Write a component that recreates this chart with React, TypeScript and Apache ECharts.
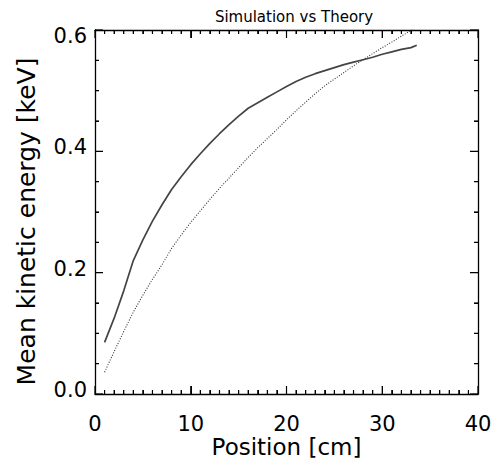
import { useEffect, useRef } from "react";
import * as echarts from "echarts";

const simPositions = [1, 2, 3, 4, 5, 6, 7, 8, 9, 10, 11, 12, 13, 14, 15, 16, 17, 18, 19, 20, 21, 22, 23, 24, 25, 26, 27, 28, 29, 30, 31, 32, 33, 33.6];
const simEnergy = [0.085, 0.125, 0.17, 0.22, 0.254, 0.285, 0.312, 0.337, 0.358, 0.378, 0.396, 0.413, 0.429, 0.444, 0.458, 0.471, 0.48, 0.489, 0.498, 0.507, 0.515, 0.522, 0.528, 0.533, 0.538, 0.543, 0.547, 0.551, 0.555, 0.56, 0.564, 0.568, 0.571, 0.575];

const theoryPositions = [1, 2, 3, 4, 5, 6, 7, 8, 9, 10, 11, 12, 13, 14, 15, 16, 17, 18, 19, 20, 21, 22, 23, 24, 25, 26, 27, 28, 29, 30, 31, 32, 33, 33.6];
const theoryEnergy = [0.036, 0.07, 0.103, 0.135, 0.163, 0.189, 0.213, 0.24, 0.262, 0.283, 0.302, 0.321, 0.339, 0.356, 0.373, 0.39, 0.406, 0.421, 0.436, 0.452, 0.467, 0.481, 0.495, 0.508, 0.519, 0.53, 0.541, 0.551, 0.561, 0.571, 0.58, 0.59, 0.599, 0.604];

const xMajorTicks = [0, 10, 20, 30, 40];
const xMinorTicks = [1, 2, 3, 4, 5, 6, 7, 8, 9, 11, 12, 13, 14, 15, 16, 17, 18, 19, 21, 22, 23, 24, 25, 26, 27, 28, 29, 31, 32, 33, 34, 35, 36, 37, 38, 39];
const yMajorTicks = [0, 0.2, 0.4, 0.6];
const yMinorTicks = [0.05, 0.1, 0.15, 0.25, 0.3, 0.35, 0.45, 0.5, 0.55];

const X_MIN = 0;
const X_MAX = 40;
const Y_MIN = 0;
const Y_MAX = 0.6;

const titleText = "Simulation vs Theory";
const xName = "Position [cm]";
const yName = "Mean kinetic energy [keV]";

const FONT = "DejaVu Sans";
const MAJOR_LEN = 8;
const MINOR_LEN = 4;
const TICK_W = 1.2;

export default function App() {
  const ref = useRef<HTMLDivElement>(null);
  useEffect(() => {
    if (!ref.current) return;
    const chart = echarts.init(ref.current, undefined, { renderer: "svg" });

    const axisLine = { show: true, onZero: false, lineStyle: { color: "#000", width: 1.3 } };
    const xCommon = {
      type: "value",
      min: X_MIN,
      max: X_MAX,
      interval: 10,
      splitLine: { show: false },
      axisLine,
      axisTick: { show: true, inside: true, length: MAJOR_LEN, lineStyle: { color: "#000", width: 1 } },
      minorTick: { show: true, splitNumber: 10, length: MINOR_LEN, lineStyle: { color: "#000", width: 1 } },
    };
    const yCommon = {
      type: "value",
      min: Y_MIN,
      max: Y_MAX,
      interval: 0.2,
      splitLine: { show: false },
      axisLine,
      axisTick: { show: true, inside: true, length: MAJOR_LEN, lineStyle: { color: "#000", width: 1 } },
      minorTick: { show: true, splitNumber: 4, length: MINOR_LEN, lineStyle: { color: "#000", width: 1 } },
    };

    chart.setOption({
      animation: false,
      backgroundColor: "#fff",
      title: {
        text: titleText,
        left: 289,
        textAlign: "center",
        top: 4,
        textStyle: { fontFamily: FONT, fontSize: 15, fontWeight: "normal", color: "#000" },
      },
      grid: { left: 95, right: 23, top: 30, bottom: 73 },
      xAxis: [
        {
          ...xCommon,
          position: "bottom",
          name: xName,
          nameLocation: "middle",
          nameGap: 41,
          nameMoveOverlap: false,
          nameTextStyle: { fontFamily: FONT, fontSize: 23, color: "#000" },
          axisLabel: { show: true, margin: 19, fontFamily: FONT, fontSize: 21, color: "#000" },
        },
        {
          ...xCommon,
          position: "top",
          axisLabel: { show: false },
        },
      ],
      yAxis: [
        {
          ...yCommon,
          position: "left",
          name: yName,
          nameLocation: "middle",
          nameGap: 56,
          nameTextStyle: { fontFamily: FONT, fontSize: 25, color: "#000", padding: [0, 19, 0, 0] },
          axisLabel: {
            show: true,
            margin: 8,
            fontFamily: FONT,
            fontSize: 21,
            color: "#000",
            formatter: (v: number) => {
              const s = v.toFixed(1);
              if (v >= 0.6) return "{top|" + s + "}";
              return "{mid|" + s + "}";
            },
            rich: {
              top: { fontFamily: FONT, fontSize: 21, color: "#000", padding: [12, 0, 0, 0] },
              mid: { fontFamily: FONT, fontSize: 21, color: "#000", padding: [0, 0, 8, 0] },
            },
          },
        },
        {
          ...yCommon,
          position: "right",
          axisLabel: { show: false },
        },
      ],
      series: [
        {
          name: "Simulation",
          type: "line",
          xAxisIndex: 0,
          yAxisIndex: 0,
          showSymbol: false,
          symbol: "none",
          data: simPositions.map((x, i) => [x, simEnergy[i]]),
          lineStyle: { color: "#444", width: 1.7 },
        },
        {
          name: "Theory",
          type: "line",
          xAxisIndex: 0,
          yAxisIndex: 0,
          showSymbol: false,
          symbol: "none",
          data: theoryPositions.map((x, i) => [x, theoryEnergy[i]]),
          lineStyle: { color: "#333", width: 1.1, type: [1, 1.6] },
        },
      ],
    });

    // Tick marks drawn as graphic rects, positioned through the chart's own axis scales.
    const finder = { xAxisIndex: 0, yAxisIndex: 0 };
    const toPx = (p: number[]) => chart.convertToPixel(finder, p) as number[];
    const rects: any[] = [];
    const addX = (vals: number[], len: number) => {
      vals.forEach((v) => {
        const b = toPx([v, Y_MIN]);
        const t = toPx([v, Y_MAX]);
        rects.push({ type: "rect", silent: true, z: 100, shape: { x: b[0] - TICK_W / 2, y: b[1] - len, width: TICK_W, height: len }, style: { fill: "#000" } });
        rects.push({ type: "rect", silent: true, z: 100, shape: { x: t[0] - TICK_W / 2, y: t[1], width: TICK_W, height: len }, style: { fill: "#000" } });
      });
    };
    const addY = (vals: number[], len: number) => {
      vals.forEach((v) => {
        const l = toPx([X_MIN, v]);
        const r = toPx([X_MAX, v]);
        rects.push({ type: "rect", silent: true, z: 100, shape: { x: l[0], y: l[1] - TICK_W / 2, width: len, height: TICK_W }, style: { fill: "#000" } });
        rects.push({ type: "rect", silent: true, z: 100, shape: { x: r[0] - len, y: r[1] - TICK_W / 2, width: len, height: TICK_W }, style: { fill: "#000" } });
      });
    };
    addX(xMajorTicks, MAJOR_LEN);
    addX(xMinorTicks, MINOR_LEN);
    addY(yMajorTicks, MAJOR_LEN);
    addY(yMinorTicks, MINOR_LEN);
    if (rects.every((r) => isFinite(r.shape.x) && isFinite(r.shape.y))) {
      chart.setOption({ graphic: { elements: rects } });
    }

    return () => chart.dispose();
  }, []);
  return (
    <div
      ref={ref}
      style={{ position: "fixed", left: 0, top: 0, width: 501, height: 467, background: "#fff" }}
    />
  );
}
